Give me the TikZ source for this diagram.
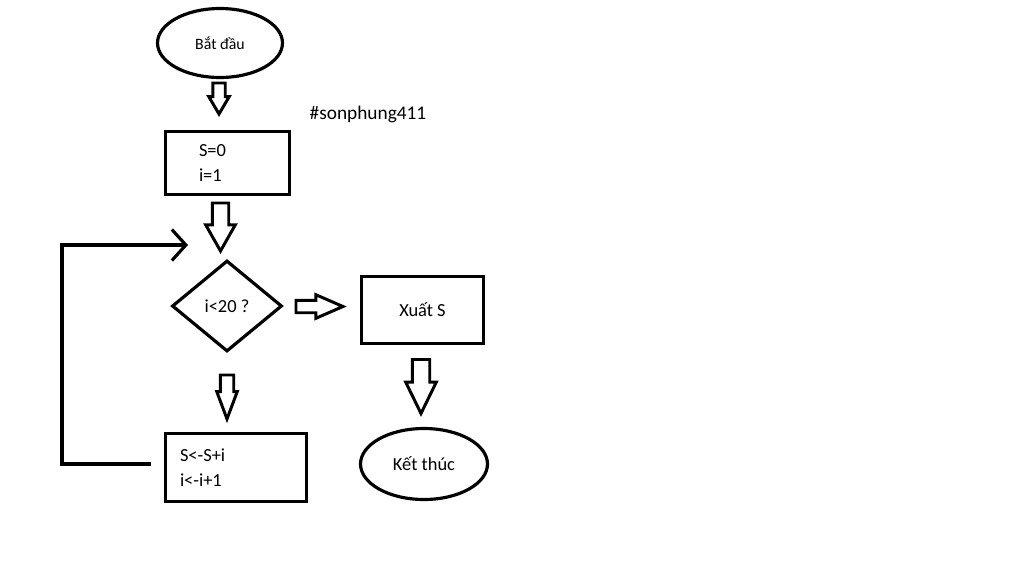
\documentclass[tikz,border=0pt]{standalone}
\usepackage{fontspec}
\setmainfont{Carlito}
\usetikzlibrary{arrows.meta, shapes.geometric, shapes.arrows}

\begin{document}
\begin{tikzpicture}[
			x=0.02cm, y=-0.02cm,
			term/.style={ellipse, draw, line width=1.8pt, inner sep=0pt},
			proc/.style={rectangle, draw, line width=1.8pt, inner sep=0pt, align=left, font=\fontsize{10.5}{14.2}\selectfont},
			test/.style={diamond, draw, line width=1.8pt, inner sep=0pt, minimum width=2.2cm, minimum height=1.82cm, font=\fontsize{10.5}{12}\selectfont},
			blockarrow/.style={single arrow, draw, line width=1.7pt, single arrow head indent=0pt, anchor=tail},
			loopline/.style={line width=1.8pt, -{Straight Barb[length=0.28cm, width=0.62cm]}}
			]
			\useasboundingbox (0,0) rectangle (1024,572);
			
			% --- Khoi bat dau / ket thuc ---
			\node[term, minimum width=2.5cm, minimum height=1.38cm, font=\fontsize{9}{11}\selectfont] (start) at (220,43) {Bắt đầu};
			\node[term, minimum width=2.54cm, minimum height=1.42cm, font=\fontsize{10.5}{12}\selectfont] (stop) at (424,464) {Kết thúc};
			
			% --- Khoi xu ly ---
			\node[proc, minimum width=2.48cm, minimum height=1.26cm, text width=1.14cm] (init) at (227.5,163) {S=0\\ i=1};
			\node[proc, minimum width=2.82cm, minimum height=1.36cm, text width=2.24cm] (upd) at (236,467.5) {S<-S+i\\ i<-i+1};
			\node[proc, minimum width=2.44cm, minimum height=1.34cm, align=center] (out) at (422.5,310) {Xuất S};
			
			% --- Dieu kien ---
			\node[test] (cond) at (227,306) {i<20 ?};
			
			\node[font=\fontsize{11}{13}\selectfont] (tag) at (368,114) {\#sonphung411};
			
			% --- Mui ten khoi ---
			\foreach \n/\x/\y/\r/\len/\sh/\ext/\ang in {
				a1/219/81.5/270/0.62/0.095/0.08/61,
				a2/220.5/201.5/270/0.96/0.135/0.13/59,
				a3/294.5/306.5/0/0.94/0.095/0.11/47,
				a4/421/358/270/1.08/0.145/0.13/52,
				a5/227/373.5/270/0.88/0.105/0.07/41}
			\node[blockarrow, shape border rotate=\r, minimum height=\len cm, inner sep=\sh cm, single arrow head extend=\ext cm, single arrow tip angle=\ang] (\n) at (\x,\y) {};
			
			% --- Vong lap ---
			\coordinate (loopin) at (188,245);
			\draw[loopline, shorten <=0.26cm] ([yshift=0.07cm]upd.west) -| (62,245) -- (loopin);
			
		\end{tikzpicture}
\end{document}
